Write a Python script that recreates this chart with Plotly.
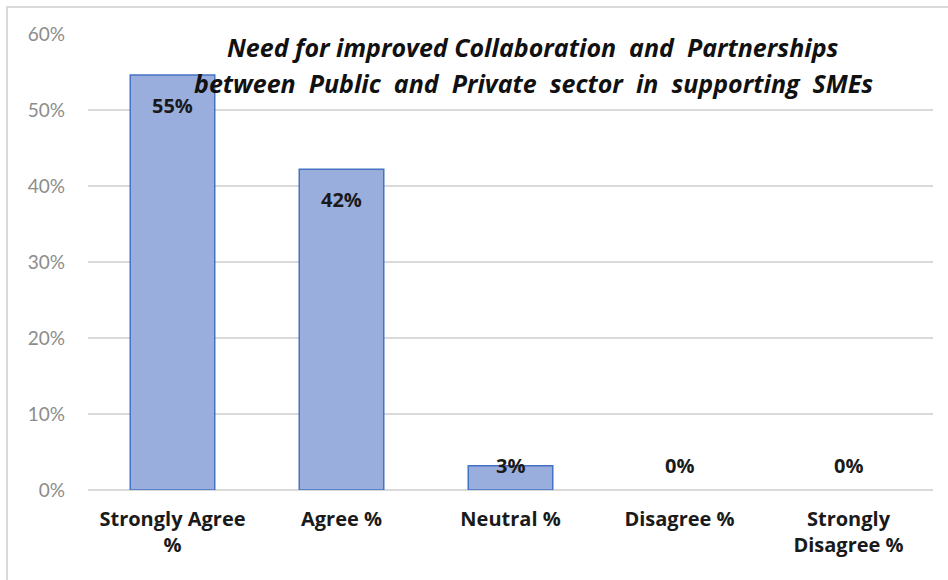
import plotly.graph_objects as go

# Survey responses: share of respondents per answer
categories = ["Strongly Agree<br>%", "Agree %", "Neutral %", "Disagree %", "Strongly<br>Disagree %"]
shares = [0.546, 0.422, 0.032, 0.0, 0.0]
tick_values = [0, 0.1, 0.2, 0.3, 0.4, 0.5, 0.6]
tick_labels = ["0%", "10%", "20%", "30%", "40%", "50%", "60%"]
title_lines = [
    "Need for improved Collaboration  and  Partnerships",
    "between  Public  and  Private  sector  in  supporting  SMEs",
]

W, H = 948, 580
M_L, M_R, M_T, M_B = 88, 15, 34, 90
Y_MAX = 0.6
plot_h = H - M_T - M_B
px_per_unit = plot_h / Y_MAX

fig = go.Figure()
fig.add_trace(go.Bar(
    x=categories,
    y=shares,
    marker=dict(
        color="#9aaedd",
        line=dict(color="#4472c4", width=[1.5 if v > 0 else 0 for v in shares]),
    ),
    width=0.5,
    hoverinfo="skip",
))

# Value labels just inside the top of each bar, kept above the baseline for small bars
for cat, v in zip(categories, shares):
    shift = max(-30, -v * px_per_unit + 25)
    fig.add_annotation(
        x=cat, y=v, yshift=shift, text=f"<b>{v:.0%}</b>",
        showarrow=False, yanchor="middle",
        font=dict(family="Open Sans, Arial", size=20, color="#1a1a1a"),
    )

for line, y_px in zip(title_lines, (47, 83)):
    fig.add_annotation(
        x=0.527, y=(H - M_B - y_px) / plot_h, xref="paper", yref="paper",
        text="<b><i>" + line.replace("  ", "\u00a0\u00a0") + "</i></b>", showarrow=False,
        xanchor="center", yanchor="middle",
        font=dict(family="Open Sans, Arial", size=25, color="#111111"),
    )

# Outer chart frame
plot_w = W - M_L - M_R
fig.add_shape(
    type="rect", xref="paper", yref="paper",
    x0=(7 - M_L) / plot_w, x1=(960 - M_L) / plot_w,
    y0=(H - M_B - 600) / plot_h, y1=(H - M_B - 7) / plot_h,
    line=dict(color="#d9d9d9", width=2), fillcolor="rgba(0,0,0,0)", layer="below",
)

fig.update_layout(
    width=W, height=H,
    margin=dict(l=M_L, r=M_R, t=M_T, b=M_B),
    paper_bgcolor="white", plot_bgcolor="white",
    showlegend=False,
    bargap=0.5,
    xaxis=dict(
        tickfont=dict(family="Open Sans, Arial", size=20, color="#1a1a1a"),
        showline=False, showgrid=False, ticks="",
        tickprefix="<b>", ticksuffix="</b>", ticklabelstandoff=15,
    ),
    yaxis=dict(
        range=[0, Y_MAX], tickvals=tick_values, ticktext=tick_labels,
        tickfont=dict(family="Lato, Arial", size=19, color="#8c8c8c"),
        gridcolor="#d9d9d9", gridwidth=1.5, zeroline=True, zerolinecolor="#d9d9d9",
        zerolinewidth=1.5, showline=False, ticks="", ticklabelstandoff=22,
    ),
)

fig.write_html("out.html")
